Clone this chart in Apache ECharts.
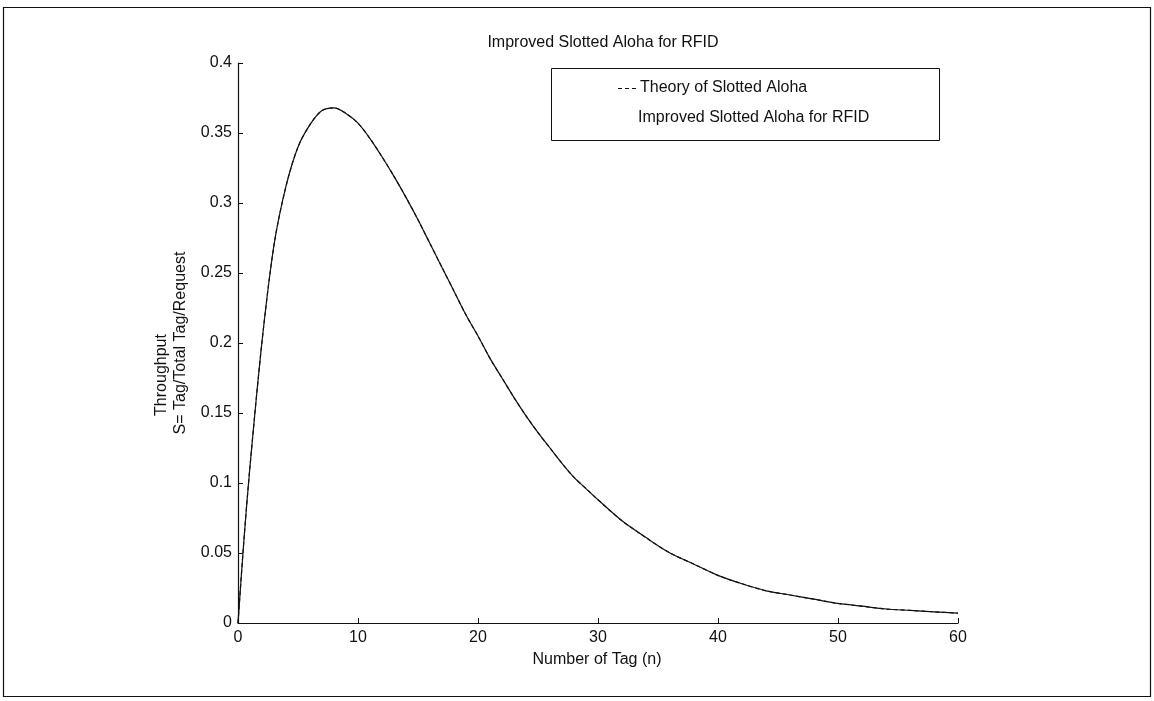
<!DOCTYPE html>
<html lang="en">
<head>
    <meta charset="UTF-8">
    <title>Improved Slotted Aloha for RFID</title>
    <script src="https://cdn.jsdelivr.net/npm/echarts@6.0.0/dist/echarts.min.js"></script>
    <style>
        html, body {
            margin: 0;
            padding: 0;
            background: #fff;
        }
        #main {
            width: 1154px;
            height: 701px;
        }
    </style>
</head>
<body>
<div id="main"></div>
<script type="text/javascript">
    // values
    var tags = [0, 0.5, 1, 2, 3, 4, 5, 6, 7, 8, 9, 10, 11, 12, 13, 14, 15, 16, 17, 18, 19, 20,
        21, 22, 23, 24, 25, 26, 27, 28, 29, 30, 32, 34, 36, 38, 40, 42, 44, 46, 48, 50,
        52, 54, 56, 58, 60];
    var theory = [0, 0.060, 0.112, 0.201, 0.270, 0.312, 0.340, 0.356, 0.366, 0.368, 0.364, 0.357,
        0.346, 0.333, 0.319, 0.304, 0.288, 0.271, 0.254, 0.237, 0.220, 0.205, 0.189, 0.175,
        0.161, 0.148, 0.136, 0.125, 0.114, 0.104, 0.096, 0.088, 0.073, 0.061, 0.050, 0.042,
        0.034, 0.028, 0.023, 0.020, 0.017, 0.014, 0.012, 0.010, 0.009, 0.008, 0.007];
    var improved = theory.slice();
    var yTicks = [0, 0.05, 0.1, 0.15, 0.2, 0.25, 0.3, 0.35, 0.4];
    var xTicks = [0, 10, 20, 30, 40, 50, 60];
    var seriesNames = ['Theory of Slotted Aloha', 'Improved Slotted Aloha for RFID'];

    function pairs(xs, ys) {
        return xs.map(function (x, i) {
            return [x, ys[i]];
        });
    }

    var font = 'Liberation Sans, Arial, sans-serif';
    var fs = 16;
    var myChart = echarts.init(document.getElementById('main'), null, {renderer: 'canvas'});

    var option = {
        backgroundColor: '#fff',
        animation: false,
        title: {
            text: 'Improved Slotted Aloha for RFID',
            left: 598,
            top: 30,
            textAlign: 'center',
            textStyle: {fontFamily: font, fontSize: fs, fontWeight: 'normal', color: '#111'}
        },
        grid: {left: 238, right: 196, top: 63, bottom: 78},
        xAxis: {
            type: 'value',
            min: 0,
            max: 60,
            interval: 10,
            axisLine: {show: true, onZero: false, lineStyle: {color: '#111', width: 1.2}},
            axisTick: {show: true, inside: true, length: 5, lineStyle: {color: '#111'}},
            splitLine: {show: false},
            axisLabel: {
                margin: 7,
                fontFamily: font, fontSize: fs, color: '#111',
                formatter: function (v) {
                    return xTicks.indexOf(v) >= 0 ? String(v) : '';
                }
            }
        },
        yAxis: {
            type: 'value',
            min: 0,
            max: 0.4,
            interval: 0.05,
            axisLine: {show: true, onZero: false, lineStyle: {color: '#111', width: 1.2}},
            axisTick: {show: true, inside: true, length: 5, lineStyle: {color: '#111'}},
            splitLine: {show: false},
            axisLabel: {
                margin: 6,
                fontFamily: font, fontSize: fs, color: '#111',
                formatter: function (v) {
                    var r = Math.round(v * 100) / 100;
                    return yTicks.indexOf(r) >= 0 ? String(r) : '';
                }
            }
        },
        series: [
            {
                name: seriesNames[0],
                type: 'line',
                showSymbol: false,
                smooth: 0.3,
                lineStyle: {color: '#111', width: 1.2, type: [4, 3]},
                itemStyle: {color: '#111'},
                data: pairs(tags, theory)
            },
            {
                name: seriesNames[1],
                type: 'line',
                showSymbol: false,
                smooth: 0.3,
                lineStyle: {color: '#111', width: 1.2},
                itemStyle: {color: '#111'},
                data: pairs(tags, improved)
            }
        ],
        graphic: [
            // figure frame
            {
                type: 'rect',
                shape: {x: 3.5, y: 7.5, width: 1147, height: 689},
                style: {fill: 'none', stroke: '#111', lineWidth: 1.2},
                silent: true
            },
            // legend box
            {
                type: 'rect',
                shape: {x: 551.5, y: 68.5, width: 388, height: 72},
                style: {fill: 'none', stroke: '#111', lineWidth: 1},
                silent: true
            },
            {
                type: 'line',
                shape: {x1: 618, y1: 88.5, x2: 636, y2: 88.5},
                style: {stroke: '#111', lineWidth: 1.2, lineDash: [4, 3]},
                silent: true
            },
            {
                type: 'text',
                x: 640,
                y: 88,
                style: {
                    text: seriesNames[0], fontFamily: font, fontSize: fs, fill: '#111',
                    align: 'left', verticalAlign: 'middle'
                }
            },
            {
                type: 'text',
                x: 638,
                y: 118,
                style: {
                    text: seriesNames[1], fontFamily: font, fontSize: fs, fill: '#111',
                    align: 'left', verticalAlign: 'middle'
                }
            },
            // y axis name (two lines)
            {
                type: 'text',
                x: 162,
                y: 375,
                rotation: Math.PI / 2,
                style: {
                    text: 'Throughput', fontFamily: font, fontSize: fs, fill: '#111',
                    align: 'center', verticalAlign: 'middle'
                }
            },
            {
                type: 'text',
                x: 181,
                y: 343,
                rotation: Math.PI / 2,
                style: {
                    text: 'S= Tag/Total Tag/Request', fontFamily: font, fontSize: fs, fill: '#111',
                    align: 'center', verticalAlign: 'middle'
                }
            },
            // x axis name
            {
                type: 'text',
                x: 597,
                y: 660,
                style: {
                    text: 'Number of Tag (n)', fontFamily: font, fontSize: fs, fill: '#111',
                    align: 'center', verticalAlign: 'middle'
                }
            }
        ]
    };

    myChart.setOption(option);
</script>
</body>
</html>
